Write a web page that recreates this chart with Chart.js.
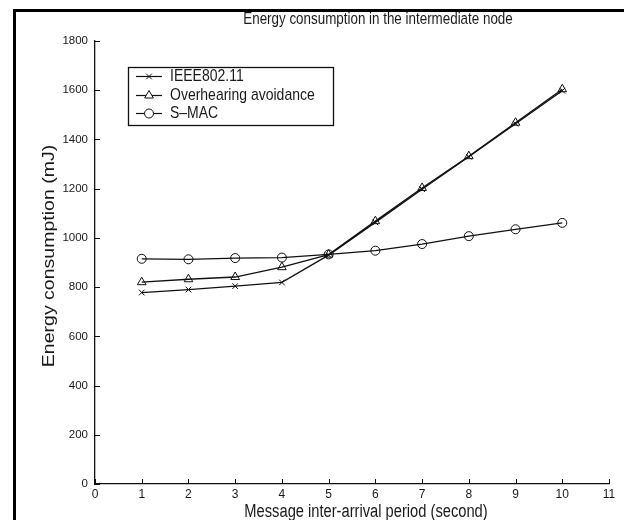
<!DOCTYPE html>
<html>
<head>
<meta charset="utf-8">
<script src="https://cdn.jsdelivr.net/npm/chart.js@4.4.0/dist/chart.umd.min.js"></script>
<style>
  html, body { margin: 0; padding: 0; background: #fff; }
  #wrap { position: relative; width: 624px; height: 520px; }
  canvas { display: block; }
</style>
</head>
<body>
<div id="wrap"><canvas id="c" width="624" height="520"></canvas></div>
<script>
// ---- data ----
const periods = [1, 2, 3, 4, 5, 6, 7, 8, 9, 10];
const ieee80211 = [778, 790, 804, 819, 930, 1063, 1198, 1330, 1464, 1598];
const overhearing = [820, 832, 841, 881, 932, 1068, 1203, 1332, 1468, 1604];
const smac = [915, 913, 918, 920, 933, 948, 975, 1007, 1035, 1061];
const seriesNames = ['IEEE802.11', 'Overhearing avoidance', 'S\u2013MAC'];
const xTicks = [0, 1, 2, 3, 4, 5, 6, 7, 8, 9, 10, 11];
const yTicks = [0, 200, 400, 600, 800, 1000, 1200, 1400, 1600, 1800];
const chartTitle = 'Energy consumption in the intermediate node';
const xTitle = 'Message inter-arrival period (second)';
const yTitle = 'Energy consumption (mJ)';

const FONT = '"Liberation Sans", Arial, sans-serif';
const TEXT = '#1a1a1a';
const toPts = arr => periods.map((p, i) => ({ x: p, y: arr[i] }));

function stretchedText(ctx, text, x, y, size, sx, sy, rot) {
  ctx.save();
  ctx.translate(x, y);
  if (rot) ctx.rotate(rot);
  ctx.scale(sx, sy);
  ctx.font = size + 'px ' + FONT;
  ctx.fillStyle = TEXT;
  ctx.textAlign = 'center';
  ctx.textBaseline = 'middle';
  ctx.fillText(text, 0, 0);
  ctx.restore();
}

function drawMarker(ctx, style, x, y, r) {
  ctx.save();
  ctx.strokeStyle = '#111';
  ctx.lineWidth = 1;
  ctx.beginPath();
  if (style === 'crossRot') {
    ctx.moveTo(x - r * 0.7, y - r * 0.7); ctx.lineTo(x + r * 0.7, y + r * 0.7);
    ctx.moveTo(x - r * 0.7, y + r * 0.7); ctx.lineTo(x + r * 0.7, y - r * 0.7);
    ctx.stroke();
  } else if (style === 'triangle') {
    ctx.moveTo(x, y - r); ctx.lineTo(x + r * 0.87, y + r * 0.5); ctx.lineTo(x - r * 0.87, y + r * 0.5); ctx.closePath();
    ctx.fillStyle = '#fff'; ctx.fill(); ctx.stroke();
  } else {
    ctx.arc(x, y, r, 0, Math.PI * 2);
    ctx.fillStyle = '#fff'; ctx.fill(); ctx.stroke();
  }
  ctx.restore();
}

const frameAndTicks = {
  id: 'frameAndTicks',
  beforeDraw(chart) {
    const ctx = chart.ctx;
    ctx.save();
    ctx.fillStyle = '#fff';
    ctx.fillRect(0, 0, chart.width, chart.height);
    ctx.fillStyle = '#000';
    ctx.fillRect(13, 9, 3, chart.height);
    ctx.fillRect(13, 9, chart.width, 3);
    ctx.restore();
  },
  afterDraw(chart) {
    const ctx = chart.ctx;
    const xs = chart.scales.x, ys = chart.scales.y;
    const ca = chart.chartArea;
    ctx.save();
    ctx.strokeStyle = '#111';
    ctx.lineWidth = 1;
    ctx.beginPath();
    yTicks.forEach(v => {
      const y = Math.round(ys.getPixelForValue(v)) + 0.5;
      ctx.moveTo(ca.left, y); ctx.lineTo(ca.left + 5, y);
    });
    xTicks.forEach(v => {
      const x = Math.round(xs.getPixelForValue(v)) + 0.5;
      ctx.moveTo(x, ca.bottom); ctx.lineTo(x, ca.bottom - 5);
    });
    ctx.stroke();

    // titles (the reference figure is stretched vertically)
    stretchedText(ctx, chartTitle, 378, 20, 13.4, 1, 1.2, 0);
    stretchedText(ctx, xTitle, 366, 512, 14.7, 1, 1.2, 0);
    stretchedText(ctx, yTitle, 50, 256, 16, 1.22, 1, -Math.PI / 2);

    // legend box
    const bx = 128, by = 67, bw = 205, bh = 58;
    ctx.lineWidth = 1.3;
    ctx.strokeStyle = '#111';
    ctx.strokeRect(bx + 0.5, by + 0.5, bw, bh);
    const rows = [76, 95, 113];
    chart.data.datasets.forEach((ds, i) => {
      const y = rows[i] + 0.5;
      ctx.beginPath();
      ctx.strokeStyle = '#111';
      ctx.lineWidth = 1.2;
      ctx.moveTo(136, y); ctx.lineTo(162, y);
      ctx.stroke();
      drawMarker(ctx, ds.pointStyle, 149, y, ds.pointRadius);
      ctx.save();
      ctx.translate(170, y);
      ctx.scale(1, 1.15);
      ctx.fillStyle = TEXT;
      ctx.font = '14px ' + FONT;
      ctx.textBaseline = 'middle';
      ctx.textAlign = 'left';
      ctx.fillText(ds.label, 0, 0);
      ctx.restore();
    });
    ctx.restore();
  }
};

const common = {
  borderColor: '#111',
  borderWidth: 1.3,
  pointBorderColor: '#111',
  pointBackgroundColor: 'rgba(255,255,255,0)',
  pointBorderWidth: 1,
  tension: 0,
  fill: false
};

new Chart(document.getElementById('c'), {
  type: 'line',
  data: {
    datasets: [
      Object.assign({ label: seriesNames[0], data: toPts(ieee80211), pointStyle: 'crossRot', pointRadius: 4 }, common),
      Object.assign({ label: seriesNames[1], data: toPts(overhearing), pointStyle: 'triangle', pointRadius: 5 }, common),
      Object.assign({ label: seriesNames[2], data: toPts(smac), pointStyle: 'circle', pointRadius: 4.5 }, common)
    ]
  },
  options: {
    responsive: false,
    animation: false,
    devicePixelRatio: 1,
    layout: { padding: { top: 41, right: 15, bottom: 0, left: 0 } },
    plugins: {
      legend: { display: false },
      tooltip: { enabled: false },
      title: { display: false }
    },
    scales: {
      x: {
        type: 'linear',
        min: 0, max: 11,
        afterBuildTicks: s => { s.ticks = xTicks.map(v => ({ value: v })); },
        afterFit: s => { s.height = 36; },
        grid: { drawOnChartArea: false, drawTicks: false },
        border: { display: true, color: '#111', width: 1.3 },
        ticks: { color: TEXT, font: { family: FONT, size: 12 }, padding: 3, maxRotation: 0, callback: v => String(v) }
      },
      y: {
        type: 'linear',
        min: 0, max: 1800,
        afterBuildTicks: s => { s.ticks = yTicks.map(v => ({ value: v })); },
        afterFit: s => { s.width = 95; },
        grid: { drawOnChartArea: false, drawTicks: false },
        border: { display: true, color: '#111', width: 1.3 },
        ticks: { color: TEXT, font: { family: FONT, size: 11.5 }, padding: 7, callback: v => String(v) }
      }
    }
  },
  plugins: [frameAndTicks]
});
</script>
</body>
</html>
